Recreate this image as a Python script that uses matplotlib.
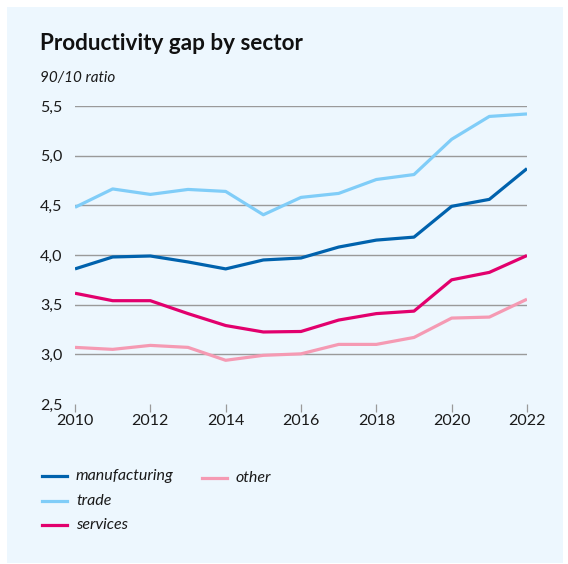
import matplotlib
matplotlib.use("Agg")
from matplotlib import pyplot as plt
from matplotlib.patches import Rectangle

years = [2010, 2011, 2012, 2013, 2014, 2015, 2016, 2017, 2018, 2019, 2020, 2021, 2022]

manufacturing = [3.86, 3.98, 3.99, 3.93, 3.86, 3.95, 3.97, 4.08, 4.15, 4.18, 4.49, 4.56, 4.87]
trade = [4.48, 4.665, 4.61, 4.66, 4.64, 4.405, 4.58, 4.62, 4.76, 4.81, 5.165, 5.395, 5.42]
services = [3.615, 3.54, 3.54, 3.41, 3.29, 3.225, 3.23, 3.345, 3.41, 3.435, 3.75, 3.825, 3.995]
other = [3.07, 3.05, 3.09, 3.07, 2.94, 2.99, 3.005, 3.10, 3.10, 3.17, 3.365, 3.375, 3.555]

y_ticks = [2.5, 3.0, 3.5, 4.0, 4.5, 5.0, 5.5]
x_ticks = [2010, 2012, 2014, 2016, 2018, 2020, 2022]

bg = "#edf7fe"
c_manu = "#0062ad"
c_trade = "#80cdf8"
c_serv = "#e2006d"
c_other = "#f59ab3"

plt.rcParams["font.family"] = ["Lato", "DejaVu Sans"]

fig = plt.figure(figsize=(5.68, 5.64), dpi=100)
fig.patch.set_facecolor("white")

# light panel behind everything
W, H = 568, 564
fig.patches.append(Rectangle((7 / W, 1 / H), (563 - 7) / W, (563 - 7) / H,
                             transform=fig.transFigure, facecolor=bg,
                             edgecolor="none", zorder=-10))

ax = fig.add_axes([75 / W, 1 - 404 / H, (527 - 75) / W, (404 - 106) / H])
ax.set_facecolor("none")

ax.plot(years, other, color=c_other, linewidth=2.3, solid_capstyle="butt", label="other")
ax.plot(years, services, color=c_serv, linewidth=2.3, solid_capstyle="butt", label="services")
ax.plot(years, trade, color=c_trade, linewidth=2.3, solid_capstyle="butt", label="trade")
ax.plot(years, manufacturing, color=c_manu, linewidth=2.3, solid_capstyle="butt", label="manufacturing")

ax.set_xlim(2010, 2022)
ax.set_ylim(2.5, 5.5)
ax.set_yticks(y_ticks)
ax.set_yticklabels([f"{v:.1f}".replace(".", ",") for v in y_ticks])
ax.set_xticks(x_ticks)
ax.set_xticklabels([str(y) for y in x_ticks])

for v in y_ticks[1:]:
    ax.axhline(v, color="#9a9a9a", linewidth=1.0, zorder=0)

for s in ax.spines.values():
    s.set_visible(False)
ax.tick_params(axis="y", length=0, pad=9, labelsize=11.5, colors="#1a1a1a")
ax.tick_params(axis="x", length=6, width=0.9, color="#9a9a9a", pad=1,
               labelsize=11.5, labelcolor="#1a1a1a")

fig.text(40 / W, 1 - 44 / H, "Productivity gap by sector", fontsize=16.2,
         fontweight="bold", va="center", ha="left", color="#111111")
fig.text(40 / W, 1 - 78 / H, "90/10 ratio", fontsize=11, style="italic",
         va="center", ha="left", color="#1a1a1a")

# legend drawn by hand in two columns
legend_items = [("manufacturing", c_manu, 42, 476),
                ("trade", c_trade, 42, 501),
                ("services", c_serv, 42, 525),
                ("other", c_other, 202, 478)]
for name, col, lx, ly in legend_items:
    fig.add_artist(plt.Line2D([lx / W, (lx + 25) / W], [1 - ly / H, 1 - ly / H],
                              color=col, linewidth=2.3, transform=fig.transFigure))
    fig.text((lx + 34) / W, 1 - ly / H, name, fontsize=11.5, style="italic",
             va="center", ha="left", color="#1a1a1a")

fig.savefig("out.png", dpi=100, facecolor="white")
